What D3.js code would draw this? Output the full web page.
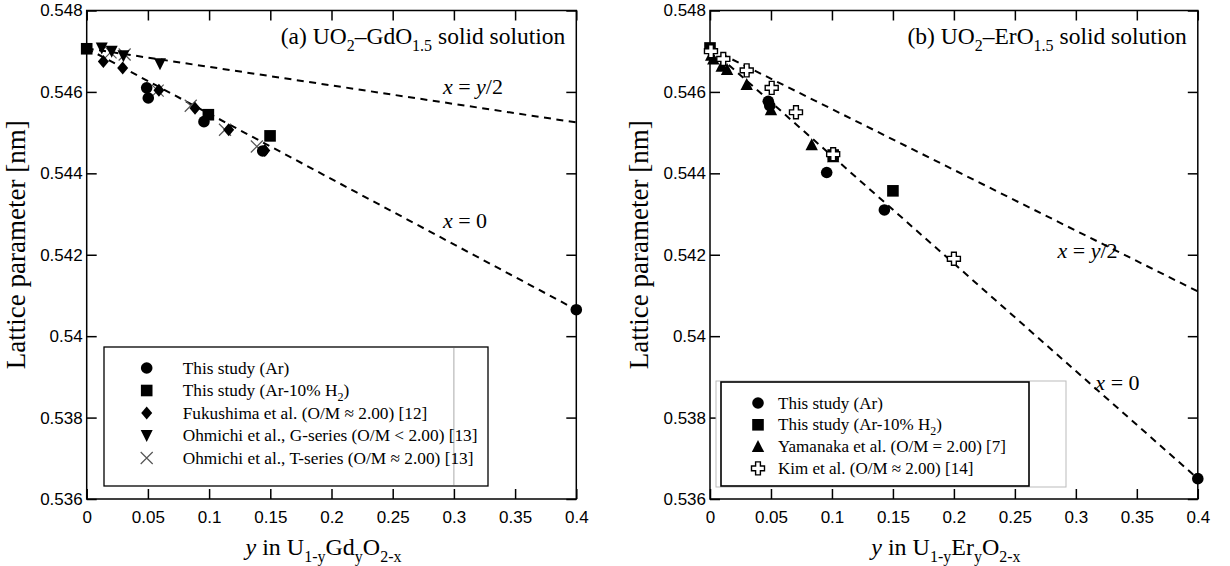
<!DOCTYPE html>
<html><head><meta charset="utf-8">
<script src="https://cdn.jsdelivr.net/npm/d3@7"></script>
<style>
body{margin:0;background:#fff}
svg{display:block}
.tick text{font-family:"Liberation Sans",Arial,sans-serif;font-size:17px;fill:#000}
.serif{font-family:"Liberation Serif","Times New Roman",serif;fill:#000}
</style>
</head><body>
<svg id="chart" width="1230" height="566"></svg>
<script>
// ---------- axes ----------
const xTicks = [0, 0.05, 0.1, 0.15, 0.2, 0.25, 0.3, 0.35, 0.4];
const xTickLabels = ["0", "0.05", "0.1", "0.15", "0.2", "0.25", "0.3", "0.35", "0.4"];
const yTicks = [0.536, 0.538, 0.540, 0.542, 0.544, 0.546, 0.548];
const yTickLabels = ["0.536", "0.538", "0.54", "0.542", "0.544", "0.546", "0.548"];

// ---------- (a) UO2-GdO1.5 ----------
const gdArY = [0.049, 0.0503, 0.0958, 0.1438, 0.4];
const gdArA = [0.54610, 0.54585, 0.54527, 0.54455, 0.54065];
const gdH2Y = [0, 0.0994, 0.1498];
const gdH2A = [0.54706, 0.54544, 0.54492];
const fukushimaY = [0.0136, 0.0294, 0.059, 0.0885, 0.116, 0.1455];
const fukushimaA = [0.54675, 0.54659, 0.54604, 0.54560, 0.54507, 0.54456];
const ohmichiGY = [0.0123, 0.0204, 0.030, 0.0599];
const ohmichiGA = [0.54708, 0.54700, 0.54689, 0.54669];
const ohmichiTY = [0.0195, 0.031, 0.058, 0.085, 0.113, 0.139];
const ohmichiTA = [0.54697, 0.54692, 0.54603, 0.54566, 0.54507, 0.54466];
const gdLineY = [0, 0.4];
const gdLineX0 = [0.54707, 0.54065];
const gdLineHalf = [0.54707, 0.54525];

// ---------- (b) UO2-ErO1.5 ----------
const erArY = [0.0478, 0.049, 0.0957, 0.143, 0.4];
const erArA = [0.54577, 0.54566, 0.54402, 0.54310, 0.53650];
const erH2Y = [0, 0.101, 0.15];
const erH2A = [0.54708, 0.54445, 0.54357];
const yamanakaY = [0.001, 0.0027, 0.0096, 0.014, 0.0301, 0.050, 0.0834, 0.101];
const yamanakaA = [0.54690, 0.54681, 0.54663, 0.54655, 0.54618, 0.54556, 0.54470, 0.54441];
const kimY = [0.0008, 0.0109, 0.0301, 0.0506, 0.0705, 0.101, 0.2];
const kimA = [0.54700, 0.54681, 0.54653, 0.54610, 0.54550, 0.54447, 0.54190];
const erLineY = [0, 0.4];
const erLineX0 = [0.54707, 0.53650];
const erLineHalf = [0.54707, 0.54110];

const svg = d3.select("#chart");
svg.append("rect").attr("width", 1230).attr("height", 566).attr("fill", "#fff");

// marker painter
function drawMarker(g, type, cx, cy) {
  if (type === "circle") {
    g.append("circle").attr("cx", cx).attr("cy", cy).attr("r", 5.8).attr("fill", "#000");
  } else if (type === "square") {
    g.append("rect").attr("x", cx - 5.8).attr("y", cy - 5.8).attr("width", 11.6).attr("height", 11.6).attr("fill", "#000");
  } else if (type === "diamond") {
    g.append("path").attr("d", `M${cx},${cy-6.5}L${cx+5.5},${cy}L${cx},${cy+6.5}L${cx-5.5},${cy}Z`).attr("fill", "#000");
  } else if (type === "triDown") {
    g.append("path").attr("d", `M${cx-6},${cy-5.5}L${cx+6},${cy-5.5}L${cx},${cy+6.5}Z`).attr("fill", "#000");
  } else if (type === "triUp") {
    g.append("path").attr("d", `M${cx-6.2},${cy+5.5}L${cx+6.2},${cy+5.5}L${cx},${cy-6.5}Z`).attr("fill", "#000");
  } else if (type === "times") {
    g.append("path").attr("d", `M${cx-6},${cy-6}L${cx+6},${cy+6}M${cx-6},${cy+6}L${cx+6},${cy-6}`)
      .attr("stroke", "#555").attr("stroke-width", 1.2).attr("fill", "none");
  } else if (type === "plus") {
    const a = 2.4, b = 6.5;
    g.append("path").attr("d",
      `M${cx-a},${cy-b}H${cx+a}V${cy-a}H${cx+b}V${cy+a}H${cx+a}V${cy+b}H${cx-a}V${cy+a}H${cx-b}V${cy-a}H${cx-a}Z`)
      .attr("fill", "#fff").attr("stroke", "#000").attr("stroke-width", 1.4);
  }
}

// text with sub-scripted parts: parts = [[text, "n"|"sub"|"i"], ...]
function richText(g, x, y, parts, size, anchor, subSize) {
  const t = g.append("text").attr("class", "serif").attr("x", x).attr("y", y)
    .attr("font-size", size).attr("text-anchor", anchor || "start");
  let shifted = false;
  parts.forEach(([s, k]) => {
    const ts = t.append("tspan").text(s);
    if (k === "sub") {
      ts.attr("font-size", subSize || size * 0.68);
      if (!shifted) { ts.attr("dy", size * 0.3); shifted = true; }
    } else {
      if (shifted) { ts.attr("dy", -size * 0.3); shifted = false; }
      if (k === "i") ts.attr("font-style", "italic");
    }
  });
  return t;
}

const plotTop = 10.5, plotBottom = 499;

function panel(cfg) {
  const x = d3.scaleLinear().domain([0, 0.4]).range([cfg.x0, cfg.x1]);
  const y = d3.scaleLinear().domain([0.536, 0.548]).range([plotBottom, plotTop]);
  const g = svg.append("g");

  // fitted lines
  const line = d3.line().x(d => x(d[0])).y(d => y(d[1]));
  cfg.lines.forEach(l => {
    g.append("path").attr("d", line(l.xs.map((v, i) => [v, l.ys[i]])))
      .attr("fill", "none").attr("stroke", "#000").attr("stroke-width", 2).attr("stroke-dasharray", "7,5.5");
  });

  // axes with inward ticks on all four sides
  const fmtX = (d, i) => xTickLabels[i];
  const fmtY = (d, i) => yTickLabels[i];
  g.append("g").attr("transform", `translate(0,${plotBottom})`)
    .call(d3.axisBottom(x).tickValues(xTicks).tickFormat(fmtX).tickSize(-10).tickSizeOuter(0).tickPadding(12));
  g.append("g").attr("transform", `translate(0,${plotTop})`)
    .call(d3.axisTop(x).tickValues(xTicks).tickFormat("").tickSize(-10).tickSizeOuter(0));
  g.append("g").attr("transform", `translate(${cfg.x0},0)`)
    .call(d3.axisLeft(y).tickValues(yTicks).tickFormat(fmtY).tickSize(-10).tickSizeOuter(0).tickPadding(4));
  g.append("g").attr("transform", `translate(${cfg.x1},0)`)
    .call(d3.axisRight(y).tickValues(yTicks).tickFormat("").tickSize(-10).tickSizeOuter(0));
  g.selectAll(".domain").remove();
  g.selectAll(".tick line").attr("stroke", "#000").attr("stroke-width", 1.5);
  g.append("rect").attr("x", cfg.x0).attr("y", plotTop).attr("width", cfg.x1 - cfg.x0).attr("height", plotBottom - plotTop)
    .attr("fill", "none").attr("stroke", "#000").attr("stroke-width", 1.5);

  // legend box (under the markers)
  cfg.legend(g, x, y);

  // data markers
  cfg.series.forEach(s => {
    s.xs.forEach((v, i) => drawMarker(g, s.type, x(v), y(s.ys[i])));
  });

  // line labels
  cfg.lineLabels.forEach(l => {
    richText(g, x(l.at[0]), y(l.at[1]), l.parts, 22, "start");
  });

  // panel title
  richText(g, cfg.x1 - 11, 44, cfg.title, 23.5, "end", 16);

  // axis titles
  richText(g, (cfg.x0 + cfg.x1) / 2 - 8, 555, cfg.xTitle, 24, "middle", 16);
  g.append("text").attr("class", "serif").attr("font-size", 27).attr("text-anchor", "middle")
    .attr("transform", `translate(${cfg.x0 - 62},${(plotTop + plotBottom) / 2 - 10}) rotate(-90)`)
    .text("Lattice parameter [nm]");
}

function legendRows(g, rows, xm, xt, y0, dy, size) {
  rows.forEach((r, i) => {
    drawMarker(g, r.type, xm, y0 + i * dy);
    richText(g, xt, y0 + i * dy + 5.5, r.parts, size, "start", size * 0.7);
  });
}

panel({
  x0: 86.7, x1: 576.3,
  lines: [{xs: gdLineY, ys: gdLineX0}, {xs: gdLineY, ys: gdLineHalf}],
  series: [
    {type: "times", xs: ohmichiTY, ys: ohmichiTA},
    {type: "diamond", xs: fukushimaY, ys: fukushimaA},
    {type: "triDown", xs: ohmichiGY, ys: ohmichiGA},
    {type: "circle", xs: gdArY, ys: gdArA},
    {type: "square", xs: gdH2Y, ys: gdH2A}
  ],
  lineLabels: [
    {at: [0.291, 0.54265], parts: [["x", "i"], [" = 0", "n"]]},
    {at: [0.291, 0.54596], parts: [["x", "i"], [" = ", "n"], ["y", "i"], ["/2", "n"]]}
  ],
  title: [["(a) UO", "n"], ["2", "sub"], ["\u2013GdO", "n"], ["1.5", "sub"], [" solid solution", "n"]],
  xTitle: [["y", "i"], [" in U", "n"], ["1-y", "sub"], ["Gd", "n"], ["y", "sub"], ["O", "n"], ["2-x", "sub"]],
  legend: (g, x) => {
    g.append("rect").attr("x", 104).attr("y", 347).attr("width", 384).attr("height", 139)
      .attr("fill", "#fff").attr("stroke", "#000").attr("stroke-width", 1.3);
    g.append("line").attr("x1", x(0.3)).attr("x2", x(0.3)).attr("y1", 348).attr("y2", 485)
      .attr("stroke", "#aaa").attr("stroke-width", 1);
    legendRows(g, [
      {type: "circle", parts: [["This study (Ar)", "n"]]},
      {type: "square", parts: [["This study (Ar-10% H", "n"], ["2", "sub"], [")", "n"]]},
      {type: "diamond", parts: [["Fukushima et al. (O/M \u2248 2.00) [12]", "n"]]},
      {type: "triDown", parts: [["Ohmichi et al., G-series (O/M < 2.00) [13]", "n"]]},
      {type: "times", parts: [["Ohmichi et al., T-series (O/M \u2248 2.00) [13]", "n"]]}
    ], 146.7, 182.7, 368, 22.5, 17.3);
  }
});

panel({
  x0: 710, x1: 1197.8,
  lines: [{xs: erLineY, ys: erLineX0}, {xs: erLineY, ys: erLineHalf}],
  series: [
    {type: "triUp", xs: yamanakaY, ys: yamanakaA},
    {type: "circle", xs: erArY, ys: erArA},
    {type: "square", xs: erH2Y, ys: erH2A},
    {type: "plus", xs: kimY, ys: kimA}
  ],
  lineLabels: [
    {at: [0.316, 0.53868], parts: [["x", "i"], [" = 0", "n"]]},
    {at: [0.285, 0.54192], parts: [["x", "i"], [" = ", "n"], ["y", "i"], ["/2", "n"]]}
  ],
  title: [["(b) UO", "n"], ["2", "sub"], ["\u2013ErO", "n"], ["1.5", "sub"], [" solid solution", "n"]],
  xTitle: [["y", "i"], [" in U", "n"], ["1-y", "sub"], ["Er", "n"], ["y", "sub"], ["O", "n"], ["2-x", "sub"]],
  legend: (g) => {
    g.append("rect").attr("x", 716).attr("y", 381).attr("width", 350).attr("height", 106)
      .attr("fill", "#fff").attr("stroke", "#bbb").attr("stroke-width", 1);
    g.append("rect").attr("x", 721).attr("y", 382).attr("width", 308).attr("height", 104)
      .attr("fill", "#fff").attr("stroke", "#000").attr("stroke-width", 1.6);
    legendRows(g, [
      {type: "circle", parts: [["This study (Ar)", "n"]]},
      {type: "square", parts: [["This study (Ar-10% H", "n"], ["2", "sub"], [")", "n"]]},
      {type: "triUp", parts: [["Yamanaka  et al. (O/M = 2.00) [7]", "n"]]},
      {type: "plus", parts: [["Kim et al. (O/M \u2248 2.00) [14]", "n"]]}
    ], 758, 778, 403, 21.8, 17);
  }
});
</script>
</body></html>
